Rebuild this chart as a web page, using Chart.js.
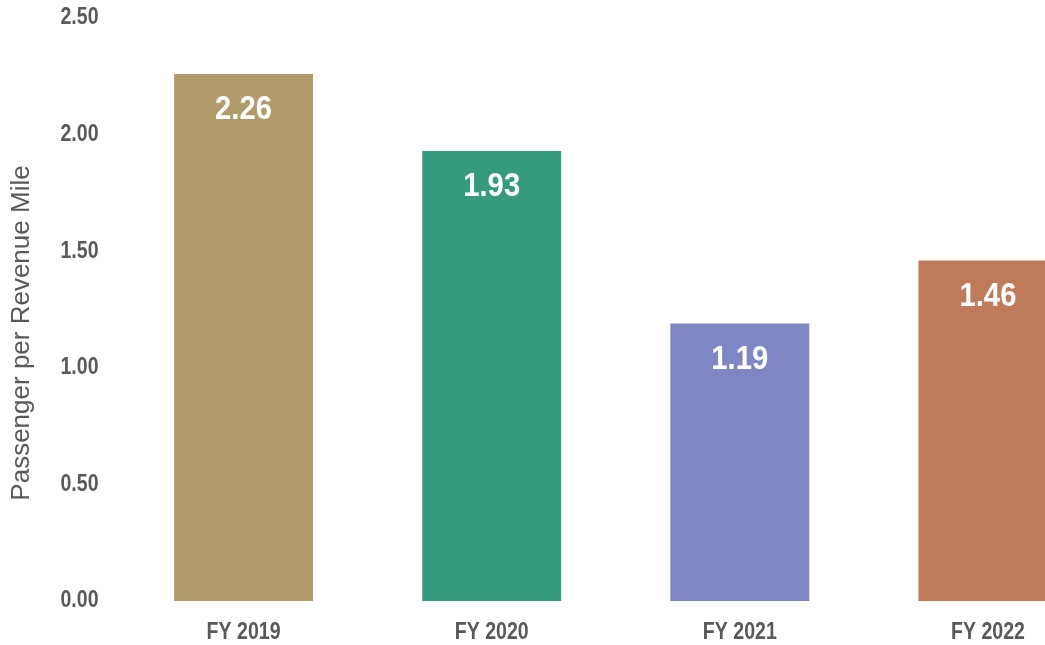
<!DOCTYPE html>
<html>
<head>
<meta charset="utf-8">
<script src="https://cdn.jsdelivr.net/npm/chart.js@4.4.1/dist/chart.umd.min.js"></script>
<style>
html,body{margin:0;padding:0;background:#fff;overflow:hidden;width:1045px;height:645px;}
#wrap{width:1112px;height:645px;}
</style>
</head>
<body>
<div id="wrap"><canvas id="c" width="1112" height="645"></canvas></div>
<script>
const categories = ["FY 2019", "FY 2020", "FY 2021", "FY 2022"];
const values = [2.26, 1.93, 1.19, 1.46];
const barColors = ["#B09B6A", "#369B7E", "#7E86C3", "#BF7A5A"];
const yTicks = [0, 0.5, 1.0, 1.5, 2.0, 2.5];
const yTitle = "Passenger per Revenue Mile";

const FONT = "'Liberation Sans', Arial, sans-serif";

// draw text horizontally condensed (Arial Narrow look)
function narrowFill(ctx, text, x, y, k) {
  ctx.save();
  ctx.translate(x, y);
  ctx.scale(k, 1);
  CanvasRenderingContext2D.prototype.fillText.call(ctx, text, 0, 0);
  ctx.restore();
}

const narrowTicks = {
  id: 'narrowTicks',
  beforeDraw(chart) {
    Object.values(chart.scales).forEach(scale => {
      if (scale._narrowWrapped) return;
      const orig = scale.drawLabels.bind(scale);
      scale.drawLabels = function (area) {
        const ctx = this.ctx;
        ctx.fillText = function (t, x, y) { narrowFill(this, t, x, y, 0.85); };
        try { orig(area); } finally { delete ctx.fillText; }
      };
      scale._narrowWrapped = true;
    });
  }
};

const valueLabels = {
  id: 'valueLabels',
  afterDatasetsDraw(chart) {
    const ctx = chart.ctx;
    const meta = chart.getDatasetMeta(0);
    ctx.save();
    ctx.fillStyle = '#ffffff';
    ctx.font = 'bold 34px ' + FONT;
    ctx.textAlign = 'center';
    ctx.textBaseline = 'middle';
    meta.data.forEach((bar, i) => {
      narrowFill(ctx, values[i].toFixed(2), bar.x, bar.y + 36, 0.86);
    });
    ctx.restore();
  }
};

const axisTitle = {
  id: 'axisTitle',
  afterDraw(chart) {
    const ctx = chart.ctx;
    ctx.save();
    ctx.fillStyle = '#595959';
    ctx.font = '26px ' + FONT;
    ctx.textAlign = 'center';
    ctx.textBaseline = 'alphabetic';
    ctx.translate(29, 333);
    ctx.rotate(-Math.PI / 2);
    ctx.fillText(yTitle, 0, 0);
    ctx.restore();
  }
};

new Chart(document.getElementById('c'), {
  type: 'bar',
  data: {
    labels: categories,
    datasets: [{
      data: values,
      backgroundColor: barColors,
      borderWidth: 0,
      barPercentage: 0.56,
      categoryPercentage: 1.0
    }]
  },
  options: {
    responsive: false,
    animation: false,
    devicePixelRatio: 1,
    layout: { padding: { top: 18, right: 0, left: 0, bottom: 0 } },
    plugins: { legend: { display: false }, tooltip: { enabled: false } },
    scales: {
      x: {
        grid: { display: false, drawTicks: false },
        border: { display: false },
        ticks: { color: '#595959', font: { family: FONT, size: 23, weight: 'bold' }, padding: 18 },
        afterFit(s) { s.height = 44; s.paddingLeft = 0; s.paddingRight = 0; }
      },
      y: {
        min: 0, max: 2.5,
        grid: { display: false, drawTicks: false },
        border: { display: false },
        afterBuildTicks(s) { s.ticks = yTicks.map(v => ({ value: v })); },
        ticks: {
          color: '#595959',
          font: { family: FONT, size: 23, weight: 'bold' },
          padding: 21,
          callback: v => Number(v).toFixed(2)
        },
        afterFit(s) { s.width = 119.5; s.paddingTop = 0; s.paddingBottom = 0; }
      }
    }
  },
  plugins: [narrowTicks, valueLabels, axisTitle]
});
</script>
</body>
</html>
